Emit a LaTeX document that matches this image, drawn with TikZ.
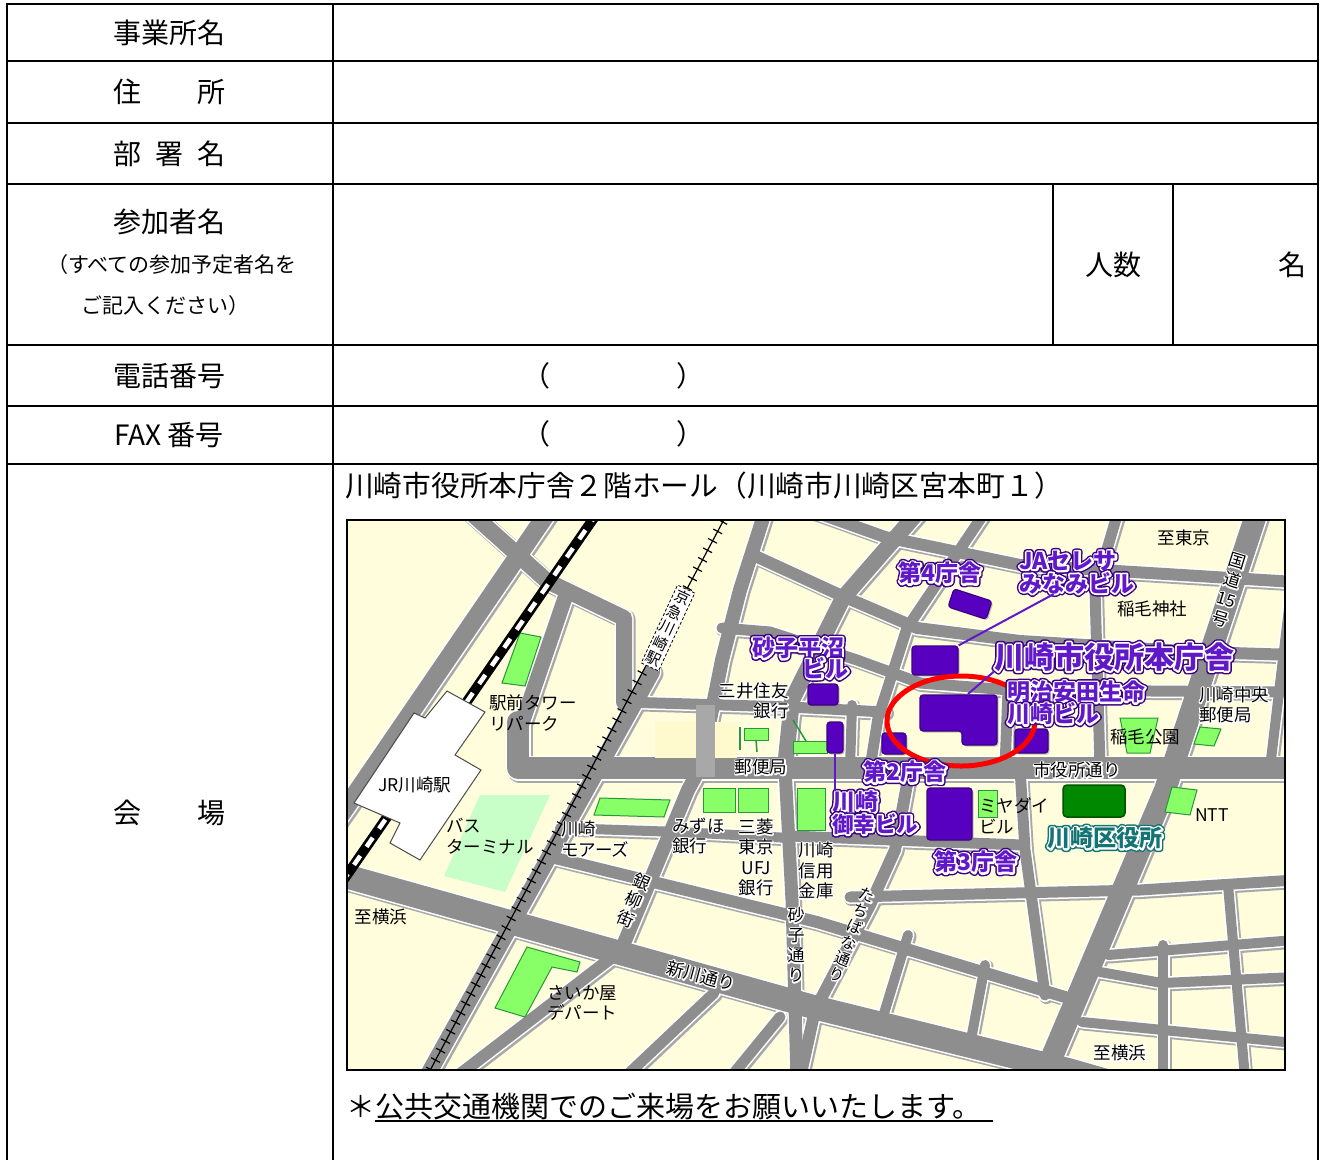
\documentclass[tikz,border=0pt]{standalone}
\usepackage{fontspec}
\setmainfont{Noto Sans CJK JP}
\usetikzlibrary{calc,shapes.geometric,shadows}
\definecolor{mapbg}{RGB}{255,253,220}
\definecolor{roadgray}{RGB}{142,142,142}
\definecolor{shgray}{RGB}{110,110,110}
\definecolor{pfill}{RGB}{88,0,192}
\definecolor{pdark}{RGB}{60,0,130}
\definecolor{ptext}{RGB}{96,24,200}
\definecolor{lgreen}{RGB}{136,255,102}
\definecolor{gborder}{RGB}{40,150,60}
\definecolor{palegreen}{RGB}{200,255,200}
\definecolor{dgreen}{RGB}{0,136,0}
\definecolor{tealc}{RGB}{20,115,115}
\definecolor{artif}{RGB}{255,250,205}
\definecolor{artgray}{RGB}{168,168,168}
\def\rextra{0pt}
\def\rcol{roadgray}
\tikzset{
  tl/.style={line width=2pt, draw=black},
  tlab/.style={font=\fontsize{28}{32}\selectfont, inner sep=0},
  slab/.style={font=\fontsize{21}{24}\selectfont, inner sep=0},
  ml/.style={font=\fontsize{17.5}{20.5}\selectfont, inner sep=0, align=left},
  vl/.style={font=\fontsize{17}{20}\selectfont, inner sep=0, align=center},
  plab/.style={font=\fontsize{23}{25}\selectfont\bfseries, text=ptext, inner sep=0},
  tlabc/.style={font=\fontsize{23}{25}\selectfont\bfseries, text=tealc, inner sep=0},
  rw/.style={draw=\rcol, line width=#1pt+\rextra, line cap=round, line join=round},
  bld/.style={fill=pfill, draw=pdark, line width=1.2pt, rounded corners=3pt, inner sep=0,
    drop shadow={shadow xshift=1.5pt, shadow yshift=-1.5pt, opacity=.45}},
  garea/.style={fill=lgreen, draw=gborder, line width=1pt},
  gline/.style={draw=gborder, line width=1.5pt},
  pline/.style={draw=ptext, line width=2pt},
}
% stroked-outline halo (text render mode 1)
\newcommand\halo[3]{{\color{#1}\special{pdf:literal direct 1 j 1 J #2 w 1 Tr}#3\special{pdf:literal direct 0 Tr}}}
\newcommand\cw[1]{\rlap{\halo{white}{2.6}{#1}}#1}
\newcommand\pw[2]{\rlap{\halo{#1}{6.5}{#2}}\rlap{\halo{white}{3.6}{#2}}#2}
\newcommand\plab[4][]{%
  \node[plab,#1] (#2) at (#3) {\pw{pdark}{#4}};}
\newcommand\roadnet{%
  \draw[rw=22] (518,722) -- (518,768) -- (1295,768);
  \draw[rw=24] (338,874) -- (817,1008) -- (1068,1070) -- (1110,1082);
  \draw[rw=22] (1257,512) -- (1165,790) -- (1043,1078);
  \draw[rw=18] (548,512) -- (347,806) -- (330,830);
  \draw[rw=16] (470,512) -- (547,581) -- (624,618) -- (624,702);
  \draw[rw=15] (567,592) -- (530,700) -- (518,735);
  \draw[rw=16] (652,672) -- (426,1078);
  \draw[rw=14] (765,512) -- (740,590) -- (722,660) -- (712,710) -- (700,768) -- (688,790) -- (622,948);
  \draw[rw=12] (615,955) -- (455,1078);
  \draw[rw=16] (918,512) -- (843,598) -- (792,700) -- (785,768);
  \draw[rw=13] (785,768) -- (792,900) -- (797,1078);
  \draw[rw=11] (624,702) -- (790,707) -- (885,712);
  \draw[rw=12] (753,555) -- (840,595) -- (917,628) -- (1020,641) -- (1200,652) -- (1295,655);
  \draw[rw=12] (815,512) -- (885,537) -- (1020,565) -- (1295,582);
  \draw[rw=11] (722,628) -- (770,632) -- (857,660) -- (920,683) -- (1010,690) -- (1295,692);
  \draw[rw=11] (985,512) -- (907,628) -- (878,718) -- (870,768);
  \draw[rw=10] (852,705) -- (850,768);
  \draw[rw=11] (1008,690) -- (1005,768);
  \draw[rw=11] (1118,512) -- (1095,590) -- (1100,768);
  \draw[rw=10] (1290,600) -- (1270,768);
  \draw[rw=12] (910,768) -- (895,850) -- (870,905) -- (815,1010) -- (800,1078);
  \draw[rw=11] (1020,768) -- (1025,850) -- (1045,995);
  \draw[rw=11] (790,836) -- (1022,845);
  \draw[rw=11] (850,897) -- (1140,890) -- (1295,880);
  \draw[rw=12] (555,858) -- (817,922) -- (1065,997);
  \draw[rw=10] (560,828) -- (680,832) -- (790,838);
  \draw[rw=10] (1108,955) -- (1295,940);
  \draw[rw=10] (1100,972) -- (1162,983) -- (1295,977);
  \draw[rw=10] (1082,1022) -- (1295,1043);
  \draw[rw=10] (1163,945) -- (1163,1078);
  \draw[rw=10] (1228,885) -- (1245,1078);
  \draw[rw=10] (908,935) -- (882,1020);
  \draw[rw=10] (985,965) -- (970,1045);
  \draw[rw=11] (714,993) -- (624,1078);
  \draw[rw=11] (780,1017) -- (730,1078);
}
\begin{document}
\begin{tikzpicture}[x=1pt,y=-1pt]
\useasboundingbox (0,0) rectangle (1320,1160);
\fill[white] (0,0) rectangle (1320,1160);
% ---------------- table ----------------
\foreach \yy in {4,61,123,184,345,406,464} {\draw[tl] (6,\yy) -- (1319,\yy);}
\draw[tl] (7,3) -- (7,1160);
\draw[tl] (333,3) -- (333,1160);
\draw[tl] (1318,3) -- (1318,1160);
\draw[tl] (1053,184) -- (1053,345);
\draw[tl] (1173,184) -- (1173,345);
\node[tlab] (l1) at (169,33) {事業所名};
\node[tlab] (l2a) at (127,92) {住};
\node[tlab] (l2b) at (211,92) {所};
\node[tlab] (l3a) at (127,154) {部};
\node[tlab] (l3b) at (169,154) {署};
\node[tlab] (l3c) at (211,154) {名};
\node[tlab] (l4) at (169,222) {参加者名};
\node[slab] (l4b) at (172,265) {（すべての参加予定者名を};
\node[slab] (l4c) at (165,306) {ご記入ください）};
\node[tlab] (l5) at (169,376) {電話番号};
\node[tlab] (l6) at (169,435) {FAX 番号};
\node[tlab] (l7a) at (127,813) {会};
\node[tlab] (l7b) at (211,813) {場};
\node[tlab] (nin) at (1113,265) {人数};
\node[tlab] (mei) at (1292,265) {名};
\node[tlab] (p1) at (536,376) {（};
\node[tlab] (p2) at (690,376) {）};
\node[tlab] (p3) at (536,434) {（};
\node[tlab] (p4) at (690,434) {）};
\node[tlab, font=\fontsize{28.7}{32}\selectfont, anchor=west] (venue) at (345,486) {川崎市役所本庁舎２階ホール（川崎市川崎区宮本町１）};
% ---------------- map ----------------
\begin{scope}
\clip (347,520) rectangle (1285,1070);
\fill[mapbg] (347,520) rectangle (1285,1070);
\begin{scope}[shift={(1.5,1.5)}]
\def\rextra{4pt}\def\rcol{shgray!60}\roadnet
\end{scope}
\def\rextra{3pt}\def\rcol{white}\roadnet
\def\rextra{0pt}\def\rcol{roadgray}\roadnet
% green areas
\fill[palegreen] (480,795) -- (550,795) -- (505,892) -- (444,876) -- cycle;
\draw[garea] (520,633) -- (541,637) -- (525,686) -- (502,683) -- cycle;
\draw[garea] (527,947) -- (580,962) -- (577,972) -- (552,967) -- (525,1017) -- (495,1008) -- cycle;
\draw[gline] (740,727) -- (740,750);
\draw[garea] (744,728) rectangle (768,740);
\draw[gline] (756,740) -- (757,752);
\draw[gline] (793,720) -- (806,741);
\draw[garea] (793,741) rectangle (827,753);
\draw[garea] (703,788) rectangle (735,812);
\draw[garea] (738,788) rectangle (768,812);
\draw[garea] (797,788) rectangle (825,830);
\draw[garea] (600,798) -- (670,800) -- (664,817) -- (594,815) -- cycle;
\draw[garea] (978,790) rectangle (997,817);
\draw[garea] (1120,718) -- (1158,718) -- (1150,753) -- (1127,753) -- cycle;
\draw[garea] (1200,727) -- (1221,729) -- (1214,746) -- (1194,744) -- cycle;
\draw[garea] (1172,787) -- (1197,790) -- (1190,815) -- (1165,812) -- cycle;
\draw[fill=dgreen, draw=dgreen!60!black, line width=1.5pt, rounded corners=4pt] (1063,785) rectangle (1125,817);
% artifact
\fill[artif] (655,722) rectangle (737,758);
\fill[artgray] (696,705) rectangle (715,777);
% Keikyu line
\coordinate (kq1) at (728,512);
\coordinate (kq2) at (426,1078);
\draw[line width=1.2pt] (kq1) -- (kq2);
\draw[line width=10pt, dash pattern=on 1.2pt off 9.5pt] (kq1) -- (kq2);
% JR line
\coordinate (jr1) at (598,512);
\coordinate (jr2) at (338,888);
\draw[line width=10pt] (jr1) -- (jr2);
\draw[line width=4.5pt, white, dash pattern=on 11pt off 11pt] (jr1) -- (jr2);
% station
\draw[fill=white, draw=black!70, line width=1pt] (447,691) -- (485,712) -- (455,755) -- (481,770) -- (420,860) -- (390,843) -- (400,823) -- (354,803) -- (414,713) -- (425,718) -- cycle;
% Keikyu station label
\node[draw, densely dashed, fill=white, line width=0.8pt, inner sep=2pt, rotate=-25,
  font=\fontsize{15}{17}\selectfont, align=center] (kqst) at (668,628) {京\\急\\川\\崎\\駅};
% buildings
\node[bld, minimum width=40pt, minimum height=19pt, rotate=-18] (b4) at (970,604) {};
\node[bld, minimum width=46pt, minimum height=29pt] (nb) at (935,660.5) {};
\draw[bld] (920,695) -- (997,695) -- (997,745) -- (962,745) -- (962,731) -- (920,731) -- cycle;
\coordinate (mtop) at (968,694);
\node[bld, minimum width=33pt, minimum height=24pt] (mb) at (1031.5,741) {};
\node[bld, minimum width=24pt, minimum height=21pt] (b2) at (894,743.5) {};
\node[bld, minimum width=30pt, minimum height=21pt] (sp) at (823,694.5) {};
\node[bld, minimum width=16pt, minimum height=31pt] (bar) at (835,737.5) {};
\node[bld, minimum width=45pt, minimum height=52pt] (b3) at (949.5,814) {};
% red ring
\node[draw=red, ellipse, line width=5pt, minimum width=148pt, minimum height=90pt, inner sep=0] (ring) at (961,721) {};
% black labels
\node[ml] (t1) at (1184,538) {至東京};
\node[ml] (t2) at (1152,609) {稲毛神社};
\node[vl, rotate=-17] (t3) at (1229,590) {\cw{国}\\\cw{道}\\\cw{15}\\\cw{号}};
\node[ml, anchor=west] (t4) at (489,713) {駅前タワー\\リパーク};
\node[ml, anchor=east, align=right] (t5) at (789,701) {\cw{三井住友}\\\cw{銀行}};
\node[ml] (t6) at (761,767) {\cw{郵便局}};
\node[ml] (t7) at (415,785) {JR川崎駅};
\node[ml, anchor=west] (t8) at (446,836) {バス\\ターミナル};
\node[ml, anchor=west] (t9) at (561,839) {\cw{川崎}\\\cw{モアーズ}};
\node[ml, anchor=west] (t10) at (672,836) {\cw{みずほ}\\\cw{銀行}};
\node[ml, align=center] (t11) at (756,857.5) {\cw{三菱}\\\cw{東京}\\\cw{UFJ}\\\cw{銀行}};
\node[ml, align=center] (t12) at (816,870.5) {\cw{川崎}\\\cw{信用}\\\cw{金庫}};
\node[vl, rotate=-23] (t13) at (634,900) {\cw{銀}\\\cw{柳}\\\cw{街}};
\node[ml] (t14) at (381,917) {至横浜};
\node[ml, anchor=west] (t15) at (547,1003) {さいか屋\\デパート};
\node[ml, rotate=-15] (t16) at (701,976) {\cw{新川通り}};
\node[vl] (t17) at (796,945) {\cw{砂}\\\cw{子}\\\cw{通}\\\cw{り}};
\node[vl, font=\fontsize{15.5}{17}\selectfont, rotate=-21] (t18) at (852,935) {\cw{た}\\\cw{ち}\\\cw{ば}\\\cw{な}\\\cw{通}\\\cw{り}};
\node[ml] (t19) at (1077,770) {\cw{市役所通り}};
\node[ml, anchor=west] (t20) at (979,816) {ミヤダイ\\ビル};
\node[ml] (t21) at (1212,815) {NTT};
\node[ml] (t22) at (1145,737) {稲毛公園};
\node[ml, anchor=west] (t23) at (1199,705) {\cw{川崎中央}\\\cw{郵便局}};
\node[ml] (t24) at (1120,1053) {\cw{至横浜}};
% purple labels
\plab{p4}{940,573}{第4庁舎}
\plab[anchor=west]{ja1}{1019,561}{JAセレサ}
\plab[anchor=west]{ja2}{1019,583}{みなみビル}
\plab{sp1}{798,648}{砂子平沼}
\plab[anchor=east]{sp2}{849,668}{ビル}
\plab[font=\fontsize{30}{32}\selectfont\bfseries]{hq}{1114,657}{川崎市役所本庁舎}
\plab[anchor=west]{my1}{1007,692}{明治安田生命}
\plab[anchor=west]{my2}{1007,714}{川崎ビル}
\plab{p2l}{905,772}{第2庁舎}
\plab[anchor=west]{mk1}{832,802}{川崎}
\plab[anchor=west, font=\fontsize{21.5}{24}\selectfont\bfseries]{mk2}{832,824}{御幸ビル}
\plab{p3l}{976,862}{第3庁舎}
\node[tlabc] (ku) at (1105,838) {\pw{tealc}{川崎区役所}};
% leaders
\draw[pline] (nb.north east) -- ($(ja2.south west)!0.3!(ja2.south east)$);
\draw[pline] (mtop) -- (hq.south west);
\draw[pline] (bar.south) -- (bar.south |- mk1.north);
\end{scope}
\draw[line width=2pt] (347,520) rectangle (1285,1070);
% note
\node[tlab, font=\fontsize{29}{32}\selectfont, anchor=west] (ast) at (346,1106) {＊};
\node[tlab, font=\fontsize{29}{32}\selectfont, anchor=west] (note) at (ast.east) {公共交通機関でのご来場をお願いいたします。};
\coordinate (ulend) at (993,1121);
\draw[line width=1.6pt] (note.west |- ulend) -- (ulend);
\end{tikzpicture}
\end{document}
